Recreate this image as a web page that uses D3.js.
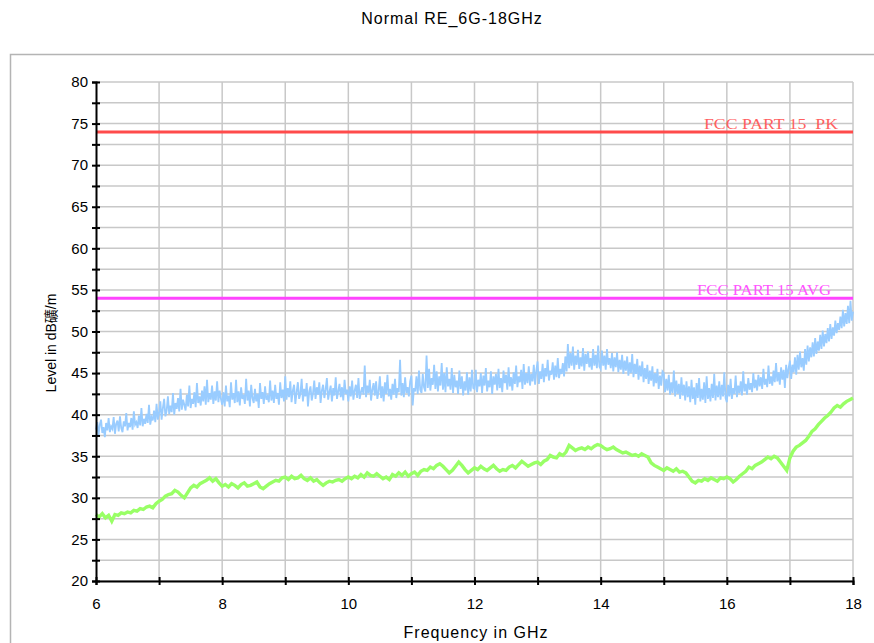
<!DOCTYPE html>
<html>
<head>
<meta charset="utf-8">
<script src="https://cdn.jsdelivr.net/npm/d3@7"></script>
<style>
  html, body { margin: 0; padding: 0; background: #fff; }
  svg { display: block; }
</style>
</head>
<body>
<svg id="chart" width="874" height="643"></svg>
<script>
// Frequency axis and level axis settings
const xTicks = [6, 7, 8, 9, 10, 11, 12, 13, 14, 15, 16, 17, 18];
const xTickLabels = [6, 8, 10, 12, 14, 16, 18];
const yTicks = [20, 22.5, 25, 27.5, 30, 32.5, 35, 37.5, 40, 42.5, 45, 47.5, 50, 52.5, 55, 57.5, 60, 62.5, 65, 67.5, 70, 72.5, 75, 77.5, 80];
const yTickLabels = [20, 25, 30, 35, 40, 45, 50, 55, 60, 65, 70, 75, 80];

// Limit lines (dBµV/m)
const limitPK = 74;
const limitAVG = 54;

// Peak detector trace, 6.00 .. 18.00 GHz, step 0.02 GHz (one row of 50 per GHz)
const peakStart = 6, peakStep = 0.02;
const peakValues = [
  38.2, 39.1, 37.5, 38.8, 39.4, 37.8, 38.5, 37.3, 39.0, 38.1, 39.6, 37.9, 38.6, 38.3, 39.7, 37.7, 38.9, 39.3, 38.0, 39.8,
  38.4, 37.9, 39.2, 38.6, 40.2, 38.1, 39.0, 38.5, 39.6, 38.2, 40.4, 38.8, 39.1, 38.4, 39.9, 38.7, 40.8, 38.6, 39.5, 38.9,
  40.1, 39.0, 41.2, 38.8, 39.7, 39.3, 40.5, 39.1, 41.3, 39.4,
  40.2, 41.6, 39.4, 40.8, 41.9, 39.8, 40.5, 42.2, 40.1, 41.1, 40.3, 42.6, 40.0, 41.4, 40.7, 42.0, 40.4, 43.1, 40.6, 41.8,
  41.2, 40.5, 42.4, 41.0, 43.5, 40.8, 41.9, 41.3, 42.7, 40.9, 43.8, 41.4, 42.2, 41.1, 42.9, 41.6, 43.4, 41.2, 44.2, 41.5,
  42.6, 41.8, 43.5, 41.3, 42.8, 41.7, 44.0, 41.5, 42.9, 41.9,
  41.2, 42.7, 41.0, 43.5, 41.6, 42.3, 40.9, 43.9, 41.8, 42.6, 41.4, 44.2, 41.5, 42.8, 41.1, 43.3, 41.9, 42.4, 41.3, 44.3,
  41.7, 42.9, 41.0, 43.6, 42.0, 41.4, 43.1, 41.6, 42.5, 40.8, 43.8, 41.9, 42.7, 41.3, 43.4, 41.8, 42.2, 41.5, 44.1, 41.7,
  42.9, 41.4, 43.6, 41.9, 42.6, 41.2, 43.9, 42.0, 43.0, 41.6,
  44.6, 41.8, 43.2, 42.1, 44.0, 41.5, 42.9, 43.6, 41.3, 42.7, 43.9, 41.9, 42.5, 44.3, 41.6, 43.1, 42.2, 43.8, 41.0, 42.8,
  43.4, 41.7, 42.6, 44.1, 41.9, 43.3, 42.4, 43.9, 41.4, 42.9, 43.6, 42.0, 43.0, 44.4, 41.8, 42.7, 43.5, 41.6, 43.2, 42.3,
  44.5, 41.9, 42.8, 43.7, 42.1, 43.3, 41.7, 44.2, 42.5, 43.0,
  41.6, 43.4, 42.2, 44.1, 41.8, 42.9, 43.6, 42.0, 44.4, 41.9, 42.7, 43.3, 42.4, 45.9, 42.1, 43.5, 42.6, 44.2, 41.7, 43.0,
  43.8, 42.3, 44.0, 41.9, 42.8, 44.6, 42.0, 43.4, 41.6, 43.9, 42.5, 44.8, 42.2, 43.1, 41.8, 43.7, 42.4, 44.3, 42.0, 43.2,
  42.7, 46.6, 42.3, 43.8, 42.1, 44.5, 42.6, 43.3, 42.2, 44.0,
  44.7, 41.1, 43.2, 42.8, 44.6, 42.5, 45.3, 43.0, 42.6, 44.9, 43.3, 42.8, 47.1, 43.2, 45.5, 42.9, 44.4, 43.6, 46.0, 43.1,
  45.2, 42.8, 44.6, 43.5, 46.2, 43.0, 45.0, 42.7, 45.7, 43.4, 44.3, 43.0, 45.6, 42.6, 44.8, 43.3, 44.1, 42.5, 45.3, 43.1,
  44.6, 42.3, 44.0, 42.9, 45.1, 42.4, 44.5, 42.8, 45.4, 43.2,
  43.1, 45.4, 42.7, 44.2, 43.4, 45.0, 42.6, 44.7, 43.5, 45.6, 42.8, 44.1, 43.3, 45.2, 42.5, 44.6, 43.6, 44.9, 42.9, 45.5,
  43.2, 44.4, 42.7, 45.3, 43.8, 44.8, 43.0, 45.7, 43.4, 44.5, 42.9, 45.1, 43.7, 45.9, 43.3, 44.6, 43.9, 45.4, 43.1, 46.1,
  43.6, 45.0, 43.8, 45.8, 43.5, 44.9, 44.0, 46.0, 43.6, 45.3,
  46.4, 43.7, 45.2, 44.3, 46.1, 43.9, 45.6, 44.6, 46.6, 44.1, 45.3, 44.8, 46.3, 44.2, 45.9, 44.5, 46.8, 44.4, 45.5, 44.9,
  46.2, 44.6, 47.0, 45.2, 48.5, 45.6, 47.4, 45.9, 48.2, 45.4, 47.1, 46.0, 47.8, 45.5, 46.9, 45.8, 48.0, 45.3, 47.3, 46.1,
  47.6, 45.7, 46.8, 45.4, 47.9, 45.9, 47.2, 45.6, 48.3, 45.8,
  45.5, 47.7, 45.9, 47.1, 45.4, 47.9, 46.0, 46.8, 45.6, 47.4, 45.2, 46.9, 45.7, 47.5, 45.1, 46.6, 45.4, 47.2, 44.9, 46.5,
  45.3, 47.0, 44.7, 46.3, 45.0, 47.3, 44.5, 46.1, 44.9, 46.7, 44.2, 45.9, 44.6, 46.4, 43.9, 45.6, 44.3, 46.0, 43.7, 45.3,
  44.1, 45.8, 43.4, 45.0, 43.8, 45.5, 43.1, 44.7, 43.5, 45.2,
  45.0, 42.7, 44.3, 42.9, 44.8, 42.4, 43.9, 42.6, 45.3, 42.2, 44.1, 42.5, 43.7, 41.9, 44.5, 42.3, 43.6, 41.7, 44.0, 42.1,
  43.4, 41.5, 44.2, 41.9, 43.3, 41.2, 43.8, 42.0, 44.4, 41.6, 43.1, 41.8, 43.9, 41.4, 44.6, 41.9, 43.2, 41.6, 43.7, 42.0,
  44.9, 41.7, 43.5, 42.1, 44.0, 41.8, 43.6, 42.2, 45.1, 42.0,
  41.5, 43.6, 42.2, 44.3, 41.9, 43.2, 42.5, 44.7, 42.1, 43.5, 42.6, 44.0, 42.3, 45.2, 42.8, 43.7, 42.4, 44.4, 43.0, 43.8,
  42.7, 45.0, 43.2, 44.2, 42.9, 44.8, 43.4, 44.5, 43.1, 45.5, 43.6, 44.3, 43.3, 45.9, 43.7, 44.6, 43.5, 45.3, 43.9, 46.2,
  44.0, 45.1, 43.6, 45.7, 44.2, 45.4, 43.2, 46.0, 44.4, 45.6,
  46.5, 44.3, 46.0, 45.1, 46.9, 44.8, 47.2, 45.4, 47.6, 45.7, 46.8, 45.3, 47.9, 46.0, 48.3, 46.4, 48.1, 46.9, 48.7, 47.0,
  49.2, 47.3, 48.8, 47.7, 49.6, 47.9, 50.1, 48.2, 49.7, 48.6, 50.4, 48.8, 50.9, 49.1, 50.5, 49.5, 51.3, 49.8, 51.0, 50.2,
  51.8, 50.4, 52.6, 50.6, 52.2, 50.9, 53.1, 51.0, 53.7, 51.3,
  52.4
];

// Average detector trace, 6.00 .. 18.00 GHz, step 0.05 GHz (one row of 20 per GHz)
const avgStart = 6, avgStep = 0.05;
const avgValues = [
  28.0, 27.7, 28.1, 27.6, 27.9, 27.2, 28.0, 27.9, 28.2, 28.1, 28.3, 28.2, 28.5, 28.4, 28.7, 28.6, 28.9, 29.0, 28.8, 29.3,
  29.6, 29.8, 30.2, 30.4, 30.5, 30.9, 30.7, 30.3, 30.0, 30.6, 31.2, 31.5, 31.3, 31.7, 31.9, 32.1, 32.4, 32.0, 32.3, 31.8,
  31.4, 31.6, 31.3, 31.7, 31.5, 31.2, 31.6, 31.8, 31.4, 31.5, 31.7, 31.9, 31.3, 31.1, 31.4, 31.7, 31.9, 32.1, 32.0, 32.4,
  32.5, 32.2, 32.6, 32.3, 32.4, 32.7, 32.3, 32.1, 32.4, 32.0, 32.2, 31.8, 31.5, 31.8, 32.0, 31.9, 32.1, 32.2, 32.0, 32.3,
  32.5, 32.3, 32.6, 32.4, 32.8, 32.5, 33.0, 32.7, 32.6, 32.9, 32.6, 32.3, 32.5, 32.2, 32.8, 32.6, 33.0, 32.7, 33.1, 32.6,
  32.9, 33.1, 32.7, 33.2, 33.4, 33.3, 33.7, 33.5, 33.9, 34.1, 33.8, 33.4, 33.0, 33.3, 33.8, 34.3, 33.9, 33.4, 33.0, 33.3,
  33.6, 33.4, 33.8, 33.5, 33.3, 33.6, 33.9, 33.5, 33.2, 33.4, 33.3, 33.7, 33.9, 33.6, 34.0, 34.4, 34.1, 33.8, 34.0, 34.2,
  34.3, 34.0, 34.4, 34.6, 35.1, 34.9, 34.8, 35.3, 35.1, 35.5, 36.3, 36.0, 35.7, 35.9, 36.0, 35.8, 36.1, 35.9, 36.2, 36.4,
  36.3, 36.0, 35.8, 35.9, 36.1, 35.8, 35.6, 35.4, 35.5, 35.3, 35.1, 35.2, 35.0, 35.3, 35.1, 34.9, 34.2, 33.9, 33.7, 33.5,
  33.3, 33.6, 33.4, 33.2, 33.5, 33.1, 33.2, 33.0, 32.5, 32.0, 31.8, 32.1, 32.0, 32.3, 32.1, 32.4, 32.2, 32.0, 32.4, 32.3,
  32.5, 32.3, 31.9, 32.2, 32.6, 32.9, 33.2, 33.7, 33.5, 33.9, 34.1, 34.3, 34.6, 34.9, 34.7, 35.0, 34.8, 34.3, 33.8, 33.3,
  34.8, 35.6, 36.1, 36.3, 36.6, 36.9, 37.4, 38.0, 38.3, 38.8, 39.2, 39.6, 39.9, 40.3, 40.8, 41.1, 40.9, 41.3, 41.6, 41.8,
  42.0
];

const svg = d3.select("#chart");
const W = 874, H = 643;
const margin = { left: 96, right: 21, top: 82, bottom: 62 };
const sans = "Liberation Sans, Arial, sans-serif";

const x = d3.scaleLinear().domain([6, 18]).range([margin.left, W - margin.right]);
const y = d3.scaleLinear().domain([20, 80]).range([H - margin.bottom, margin.top]);

// Outer panel frame
svg.append("rect")
  .attr("x", 10.5).attr("y", 54.5)
  .attr("width", 900).attr("height", 700)
  .attr("fill", "#fff")
  .attr("stroke", "#b4b4b4")
  .attr("stroke-width", 1.5);

// Title
svg.append("text")
  .attr("x", 452).attr("y", 24)
  .attr("text-anchor", "middle")
  .attr("font-family", sans)
  .attr("font-size", 16)
  .attr("letter-spacing", 1)
  .attr("fill", "#000")
  .text("Normal RE_6G-18GHz");

// Grid
const grid = svg.append("g").attr("stroke", "#c8c8c8").attr("stroke-width", 1.5);
grid.selectAll("line.h").data(yTicks).join("line")
  .attr("x1", x(6)).attr("x2", x(18))
  .attr("y1", d => y(d)).attr("y2", d => y(d));
grid.selectAll("line.v").data(xTicks.slice(1)).join("line")
  .attr("x1", d => x(d)).attr("x2", d => x(d))
  .attr("y1", y(20)).attr("y2", y(80));

// Limit lines
svg.append("line")
  .attr("x1", x(6)).attr("x2", x(18))
  .attr("y1", y(limitPK)).attr("y2", y(limitPK))
  .attr("stroke", "#ff4b4b").attr("stroke-width", 3);
svg.append("line")
  .attr("x1", x(6)).attr("x2", x(18))
  .attr("y1", y(limitAVG)).attr("y2", y(limitAVG))
  .attr("stroke", "#ff44ff").attr("stroke-width", 3);

svg.append("text")
  .attr("x", 704).attr("y", y(limitPK) - 3)
  .attr("font-family", "Liberation Serif, DejaVu Serif, serif")
  .attr("font-size", 14)
  .attr("fill", "#ff6060")
  .attr("textLength", 134).attr("lengthAdjust", "spacingAndGlyphs")
  .style("white-space", "pre")
  .text("FCC PART 15  PK");
svg.append("text")
  .attr("x", 697).attr("y", y(limitAVG) - 3)
  .attr("font-family", "Liberation Serif, DejaVu Serif, serif")
  .attr("font-size", 14)
  .attr("fill", "#ff55ff")
  .attr("textLength", 134).attr("lengthAdjust", "spacingAndGlyphs")
  .text("FCC PART 15 AVG");

// Traces
const line = d3.line().x(d => x(d[0])).y(d => y(d[1]));
const peakData = peakValues.map((v, i) => [peakStart + i * peakStep, v]);
const avgData = avgValues.map((v, i) => [avgStart + i * avgStep, v]);

svg.append("path")
  .datum(peakData)
  .attr("d", line)
  .attr("fill", "none")
  .attr("stroke", "#99ccff")
  .attr("stroke-width", 1.8);

svg.append("path")
  .datum(avgData)
  .attr("d", line)
  .attr("fill", "none")
  .attr("stroke", "#99ff66")
  .attr("stroke-width", 3.4);

// Axes
const yAxis = d3.axisLeft(y)
  .tickValues(yTicks)
  .tickSize(4)
  .tickFormat(d => yTickLabels.includes(d) ? d : "");
const yg = svg.append("g").attr("transform", `translate(${x(6)},0)`).call(yAxis);
yg.select(".domain").attr("stroke", "#000").attr("stroke-width", 2);
yg.selectAll(".tick line").attr("stroke", "#000").attr("stroke-width", 2).attr("x2", 4).attr("x1", -4);
yg.selectAll(".tick text")
  .attr("font-family", sans)
  .attr("font-size", 15).attr("fill", "#000").attr("x", -8);

const xAxis = d3.axisBottom(x)
  .tickValues(xTicks)
  .tickSize(4)
  .tickFormat(d => xTickLabels.includes(d) ? d : "");
const xg = svg.append("g").attr("transform", `translate(0,${y(20)})`).call(xAxis);
xg.select(".domain").attr("stroke", "#000").attr("stroke-width", 2);
xg.selectAll(".tick line").attr("stroke", "#000").attr("stroke-width", 2).attr("y1", -4).attr("y2", 4);
xg.selectAll(".tick text")
  .attr("font-family", sans)
  .attr("font-size", 15).attr("fill", "#000").attr("y", 17);

// Axis titles
svg.append("text")
  .attr("transform", `translate(56,343) rotate(-90)`)
  .attr("text-anchor", "middle")
  .attr("font-family", "Liberation Sans, Arial, 'Noto Sans CJK SC', sans-serif")
  .attr("font-size", 14)
  .attr("fill", "#000")
  .text("Level in dB礦/m");

svg.append("text")
  .attr("x", 476).attr("y", 638)
  .attr("text-anchor", "middle")
  .attr("font-family", sans)
  .attr("font-size", 16)
  .attr("letter-spacing", 1)
  .attr("fill", "#000")
  .text("Frequency in GHz");
</script>
</body>
</html>
